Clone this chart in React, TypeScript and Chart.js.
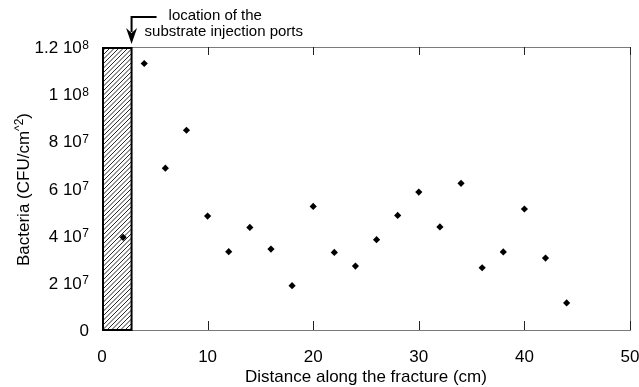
import React, { useEffect, useRef } from "react";
import { Chart, registerables } from "chart.js";

Chart.register(...registerables);

// Sampling positions along the fracture (cm) and attached bacteria (CFU/cm^2)
const DISTANCE_CM = [2, 4, 6, 8, 10, 12, 14, 16, 18, 20, 22, 24, 26, 28, 30, 32, 34, 36, 38, 40, 42, 44];
const BACTERIA = [
  3.93e7, 1.13e8, 6.86e7, 8.47e7, 4.83e7, 3.32e7, 4.35e7, 3.43e7, 1.88e7, 5.24e7, 3.29e7,
  2.71e7, 3.83e7, 4.86e7, 5.85e7, 4.37e7, 6.22e7, 2.64e7, 3.31e7, 5.13e7, 3.05e7, 1.15e7,
];

const X_TICKS = [0, 10, 20, 30, 40, 50];
const X_TICK_LABELS = ["0", "10", "20", "30", "40", "50"];
const Y_TICKS = [0, 2e7, 4e7, 6e7, 8e7, 1e8, 1.2e8];
const Y_TICK_LABELS = ["0", "2 10^7", "4 10^7", "6 10^7", "8 10^7", "1 10^8", "1.2 10^8"];

// Substrate injection zone (hatched), from the inlet to this distance (cm)
const INJECTION_END_CM = 2.8;

const X_TITLE = "Distance along the fracture (cm)";
const Y_TITLE_MAIN = "Bacteria (CFU/cm";
const Y_TITLE_SUP = "^2";
const Y_TITLE_END = ")";
const NOTE_LINE_1 = "location of the";
const NOTE_LINE_2 = "substrate injection ports";

const FONT = "'Liberation Sans', Arial, Helvetica, sans-serif";

const figurePlugin = {
  id: "figureDecor",
  beforeDraw(chart: any) {
    const ctx = chart.ctx;
    ctx.save();
    ctx.fillStyle = "#ffffff";
    ctx.fillRect(0, 0, chart.width, chart.height);
    ctx.restore();
  },
  beforeDatasetsDraw(chart: any) {
    const ctx = chart.ctx;
    const { left, right, top, bottom } = chart.chartArea;
    const xs = chart.scales.x;
    const zoneRight = xs.getPixelForValue(INJECTION_END_CM);
    const zoneLeft = xs.getPixelForValue(0);

    // plot frame
    ctx.save();
    ctx.strokeStyle = "#7a7a7a";
    ctx.lineWidth = 1;
    ctx.strokeRect(Math.round(left) + 0.5, Math.round(top) + 0.5, Math.round(right - left), Math.round(bottom - top));

    // inward tick marks on bottom and top axes
    ctx.strokeStyle = "#222222";
    for (const v of X_TICKS) {
      const px = Math.round(xs.getPixelForValue(v)) + 0.5;
      ctx.beginPath();
      ctx.moveTo(px, bottom);
      ctx.lineTo(px, bottom - 9);
      ctx.moveTo(px, top);
      ctx.lineTo(px, top + 8);
      ctx.stroke();
    }

    // hatched injection zone
    ctx.save();
    ctx.beginPath();
    ctx.rect(zoneLeft, top, zoneRight - zoneLeft, bottom - top);
    ctx.clip();
    ctx.fillStyle = "#ffffff";
    ctx.fillRect(zoneLeft, top, zoneRight - zoneLeft, bottom - top);
    ctx.strokeStyle = "#111111";
    ctx.lineWidth = 0.9;
    const h = bottom - top;
    for (let x = zoneLeft - h; x < zoneRight + 5; x += 4.5) {
      ctx.beginPath();
      ctx.moveTo(x, bottom);
      ctx.lineTo(x + h, top);
      ctx.stroke();
    }
    ctx.restore();
    ctx.strokeStyle = "#000000";
    ctx.lineWidth = 2;
    ctx.strokeRect(zoneLeft + 1, top + 1, zoneRight - zoneLeft - 1, bottom - top - 1);
    ctx.restore();
  },
  afterDraw(chart: any) {
    const ctx = chart.ctx;
    const { left, right, top, bottom } = chart.chartArea;
    const xs = chart.scales.x;
    const ys = chart.scales.y;
    ctx.save();
    ctx.fillStyle = "#000000";

    // x tick labels
    ctx.font = `17px ${FONT}`;
    ctx.textAlign = "center";
    ctx.textBaseline = "alphabetic";
    X_TICKS.forEach((v, i) => {
      ctx.fillText(X_TICK_LABELS[i], xs.getPixelForValue(v), bottom + 32);
    });

    // y tick labels with superscript exponents
    const labelRight = left - 13;
    Y_TICKS.forEach((v, i) => {
      const py = ys.getPixelForValue(v);
      const [base, sup] = Y_TICK_LABELS[i].split("^");
      ctx.textAlign = "right";
      let x = labelRight;
      if (sup) {
        ctx.font = `12px ${FONT}`;
        ctx.fillText(sup, x, py + 1.5);
        x -= ctx.measureText(sup).width + 0.5;
      }
      ctx.font = `17px ${FONT}`;
      ctx.fillText(base, x, py + 6);
    });

    // x axis title
    ctx.font = `17px ${FONT}`;
    ctx.textAlign = "center";
    ctx.fillText(X_TITLE, (left + right) / 2, bottom + 51.5);

    // y axis title, rotated, with superscript
    ctx.save();
    ctx.translate(29, (top + bottom) / 2 + 1);
    ctx.rotate(-Math.PI / 2);
    ctx.textAlign = "left";
    ctx.font = `17px ${FONT}`;
    const wMain = ctx.measureText(Y_TITLE_MAIN).width;
    const wEnd = ctx.measureText(Y_TITLE_END).width;
    ctx.font = `12px ${FONT}`;
    const wSup = ctx.measureText(Y_TITLE_SUP).width;
    const total = wMain + wSup + wEnd;
    let tx = -total / 2;
    ctx.font = `17px ${FONT}`;
    ctx.fillText(Y_TITLE_MAIN, tx, 0);
    tx += wMain;
    ctx.font = `12px ${FONT}`;
    ctx.fillText(Y_TITLE_SUP, tx, -6);
    tx += wSup;
    ctx.font = `17px ${FONT}`;
    ctx.fillText(Y_TITLE_END, tx, 0);
    ctx.restore();

    // note with arrow pointing at the injection ports
    const ax = xs.getPixelForValue(INJECTION_END_CM);
    ctx.strokeStyle = "#000000";
    ctx.lineWidth = 2;
    ctx.beginPath();
    ctx.moveTo(ax + 25, 17);
    ctx.lineTo(ax, 17);
    ctx.lineTo(ax, 32);
    ctx.stroke();
    ctx.beginPath();
    ctx.moveTo(ax - 5.5, 28);
    ctx.lineTo(ax, 33);
    ctx.lineTo(ax + 5.5, 28);
    ctx.lineTo(ax, top - 3);
    ctx.closePath();
    ctx.fill();

    ctx.font = `15px ${FONT}`;
    ctx.textAlign = "left";
    ctx.fillText(NOTE_LINE_1, ax + 37, 19.5);
    ctx.fillText(NOTE_LINE_2, ax + 13, 35.5);
    ctx.restore();
  },
};

export default function App() {
  const canvasRef = useRef<HTMLCanvasElement | null>(null);

  useEffect(() => {
    const canvas = canvasRef.current;
    if (!canvas) return;
    const chart = new Chart(canvas, {
      type: "scatter",
      data: {
        datasets: [
          {
            data: DISTANCE_CM.map((x, i) => ({ x, y: BACTERIA[i] })),
            pointStyle: "rectRot",
            pointRadius: 3.6,
            backgroundColor: "#000000",
            borderColor: "#000000",
            borderWidth: 0,
          },
        ],
      },
      options: {
        animation: false,
        responsive: false,
        devicePixelRatio: 1,
        layout: { padding: { left: 102, top: 47, right: 9, bottom: 57 } },
        plugins: { legend: { display: false }, tooltip: { enabled: false } },
        scales: {
          x: { type: "linear", min: 0, max: 50, display: false },
          y: { type: "linear", min: 0, max: 1.2e8, display: false },
        },
      },
      plugins: [figurePlugin],
    });
    return () => chart.destroy();
  }, []);

  return (
    <div style={{ position: "fixed", left: 0, top: 0, width: 639, height: 387, background: "#fff" }}>
      <canvas ref={canvasRef} width={639} height={387} style={{ display: "block" }} />
    </div>
  );
}
